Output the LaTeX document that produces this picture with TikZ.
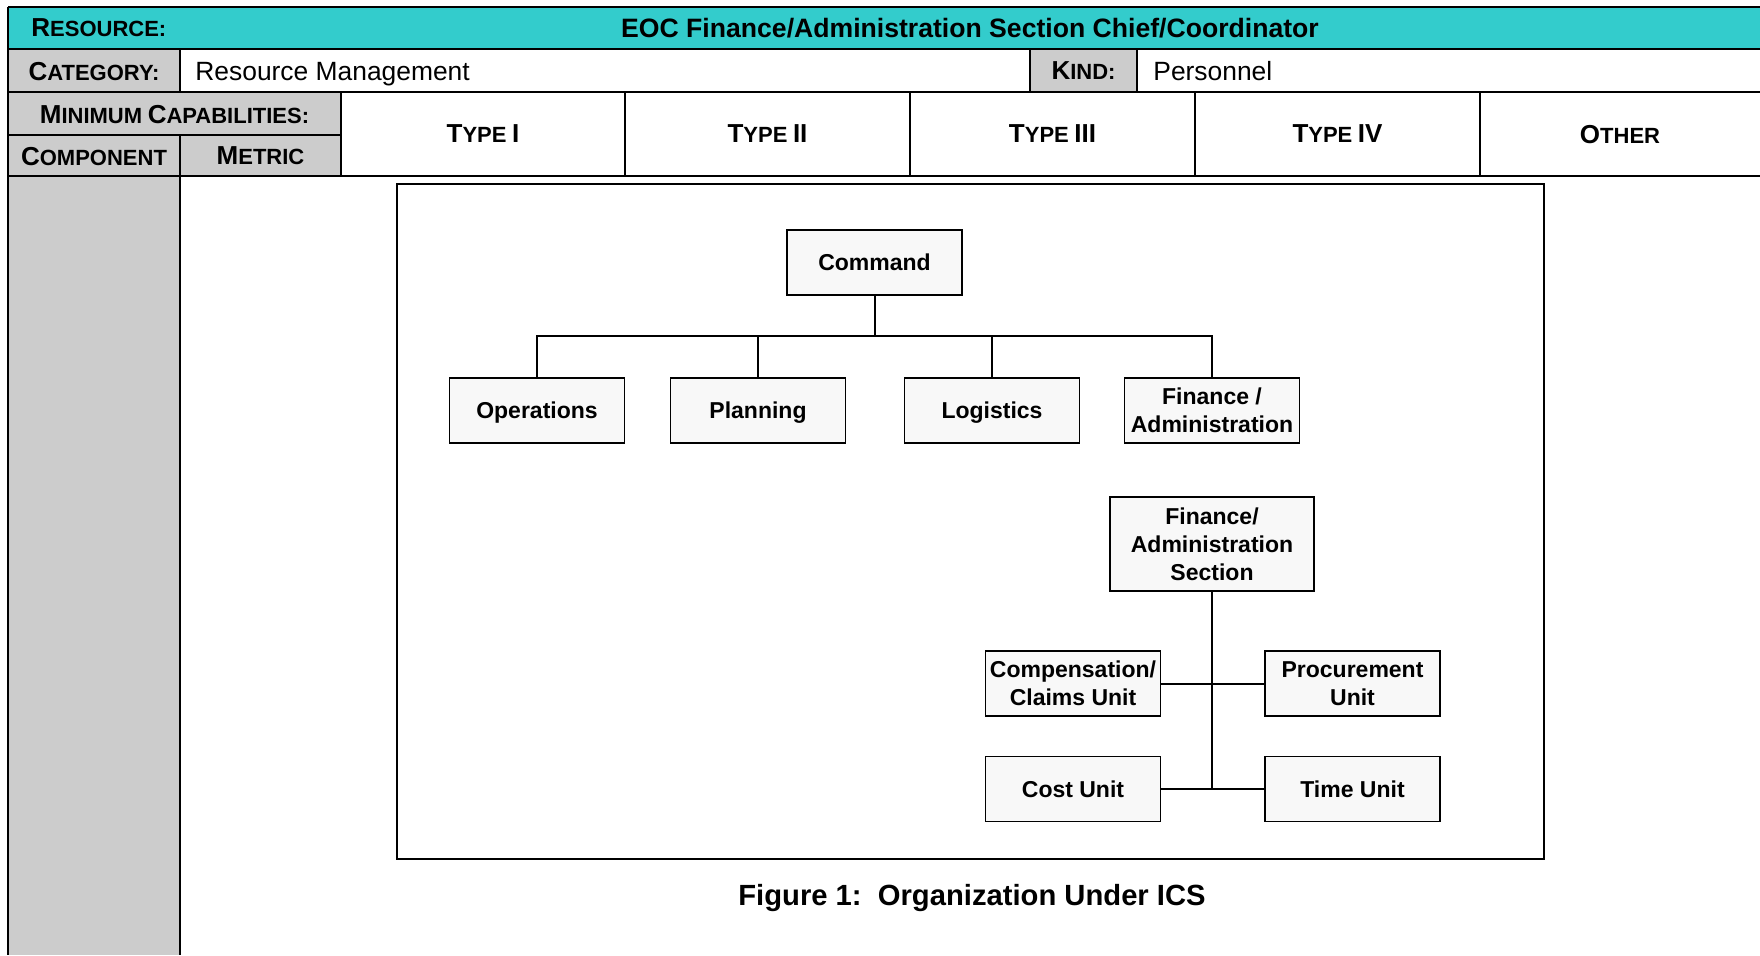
\documentclass[tikz,border=0pt]{standalone}
\usepackage{fontspec}
\setmainfont{Liberation Sans}
\definecolor{hdrcyan}{HTML}{33CCCC}
\definecolor{cellgray}{HTML}{CCCCCC}
\definecolor{boxfill}{HTML}{F8F8F8}
% fake small caps: large initial, smaller rest
\newcommand\capsc[2]{{\fontsize{13}{15}\selectfont #1}{\fontsize{11}{13}\selectfont #2}}
\begin{document}
\begin{tikzpicture}[x=0.5pt,y=-0.5pt,
  tbl/.style={line width=1pt,black},
  hdr/.style={font=\bfseries,inner sep=0pt,anchor=center,text depth=0pt},
  val/.style={font=\fontsize{13.2}{15}\selectfont,inner sep=0pt,anchor=base west},
  orgbox/.style={draw,line width=0.9pt,fill=boxfill,inner sep=0pt,align=center,
    font=\fontsize{11.5}{14}\selectfont\bfseries,
    minimum width=87.5pt,minimum height=32.5pt},
  oneline/.style={text depth=0pt},
  link/.style={line width=1pt}]
\useasboundingbox (0,0) rectangle (1760,955);

% --- table fills ---
\fill[hdrcyan] (8,7) rectangle (1760,49);
\fill[cellgray] (8,49) rectangle (180,92);
\fill[cellgray] (1030,49) rectangle (1137,92);
\fill[cellgray] (8,92) rectangle (341,176);
\fill[cellgray] (8,176) rectangle (180,955);

% --- table rules ---
\draw[tbl] (8,7) -- (1760,7);
\draw[tbl] (8,49) -- (1760,49);
\draw[tbl] (8,92) -- (1760,92);
\draw[tbl] (8,135) -- (341,135);
\draw[tbl] (8,176) -- (1760,176);
\draw[tbl] (8,7) -- (8,955);
\draw[tbl] (180,49) -- (180,92);
\draw[tbl] (180,135) -- (180,955);
\draw[tbl] (1030,49) -- (1030,92);
\draw[tbl] (1137,49) -- (1137,92);
\draw[tbl] (341,92) -- (341,176);
\draw[tbl] (625,92) -- (625,176);
\draw[tbl] (910,92) -- (910,176);
\draw[tbl] (1195,92) -- (1195,176);
\draw[tbl] (1480,92) -- (1480,176);

% --- table texts ---
\node[hdr,anchor=west] (lres) at (31,28) {\capsc{R}{ESOURCE:}};
\node[hdr,font=\fontsize{13.3}{15}\selectfont\bfseries] (title) at (970,28)
  {EOC Finance/Administration Section Chief/Coordinator};
\node[hdr] (lcat) at (94,71) {\capsc{C}{ATEGORY:}};
\node[val] (vcat) at (195,80.5) {Resource Management};
\node[hdr] (lkind) at (1083.5,71) {\capsc{K}{IND:}};
\node[val] (vkind) at (1153,80.5) {Personnel};
\node[hdr] (lmin) at (174.5,114) {\capsc{M}{INIMUM} \capsc{C}{APABILITIES:}};
\node[hdr] (lcomp) at (94,156) {\capsc{C}{OMPONENT}};
\node[hdr] (lmet) at (260.5,156) {\capsc{M}{ETRIC}};
\node[hdr] (t1) at (483,134) {\capsc{T}{YPE} \capsc{I}{}};
\node[hdr] (t2) at (767.5,134) {\capsc{T}{YPE} \capsc{II}{}};
\node[hdr] (t3) at (1052.5,134) {\capsc{T}{YPE} \capsc{III}{}};
\node[hdr] (t4) at (1337.5,134) {\capsc{T}{YPE} \capsc{IV}{}};
\node[hdr] (t5) at (1620,134) {\capsc{O}{THER}};

% --- figure frame ---
\draw[line width=0.9pt] (397,184) rectangle (1544,859);

% --- top-level organization ---
\node[orgbox,oneline] (cmd) at (874.5,262.5) {Command};
\node[orgbox,oneline] (ops) at (537,410.5) {Operations};
\node[orgbox,oneline] (plan) at (758,410.5) {Planning};
\node[orgbox,oneline] (logi) at (992,410.5) {Logistics};
\node[orgbox] (fin) at (1212,410.5) {Finance /\\Administration};
\coordinate (bus) at (874.5,336);
\draw[link] (cmd.south) -- (bus);
\draw[link] (ops.north) |- (bus);
\draw[link] (plan.north) |- (bus);
\draw[link] (logi.north) |- (bus);
\draw[link] (fin.north) |- (bus);

% --- finance/administration section ---
\node[orgbox,minimum width=102pt,minimum height=47pt] (fsec) at (1212,544)
  {Finance/\\Administration\\Section};
\node[orgbox] (comp) at (1073,683.5) {Compensation/\\Claims Unit};
\node[orgbox] (proc) at (1352.5,683.5) {Procurement\\Unit};
\node[orgbox,oneline] (cost) at (1073,789) {Cost Unit};
\node[orgbox,oneline] (time) at (1352.5,789) {Time Unit};
\coordinate (trunkend) at (fsec.south |- cost.east);
\draw[link] (fsec.south) -- (trunkend);
\draw[link] (comp.east) -- (proc.west);
\draw[link] (cost.east) -- (time.west);

% --- caption ---
\node[font=\fontsize{14.6}{17}\selectfont\bfseries,inner sep=0pt,text depth=0pt] (cap) at (972,895)
  {Figure 1:\ \ Organization Under ICS};
\end{tikzpicture}
\end{document}
